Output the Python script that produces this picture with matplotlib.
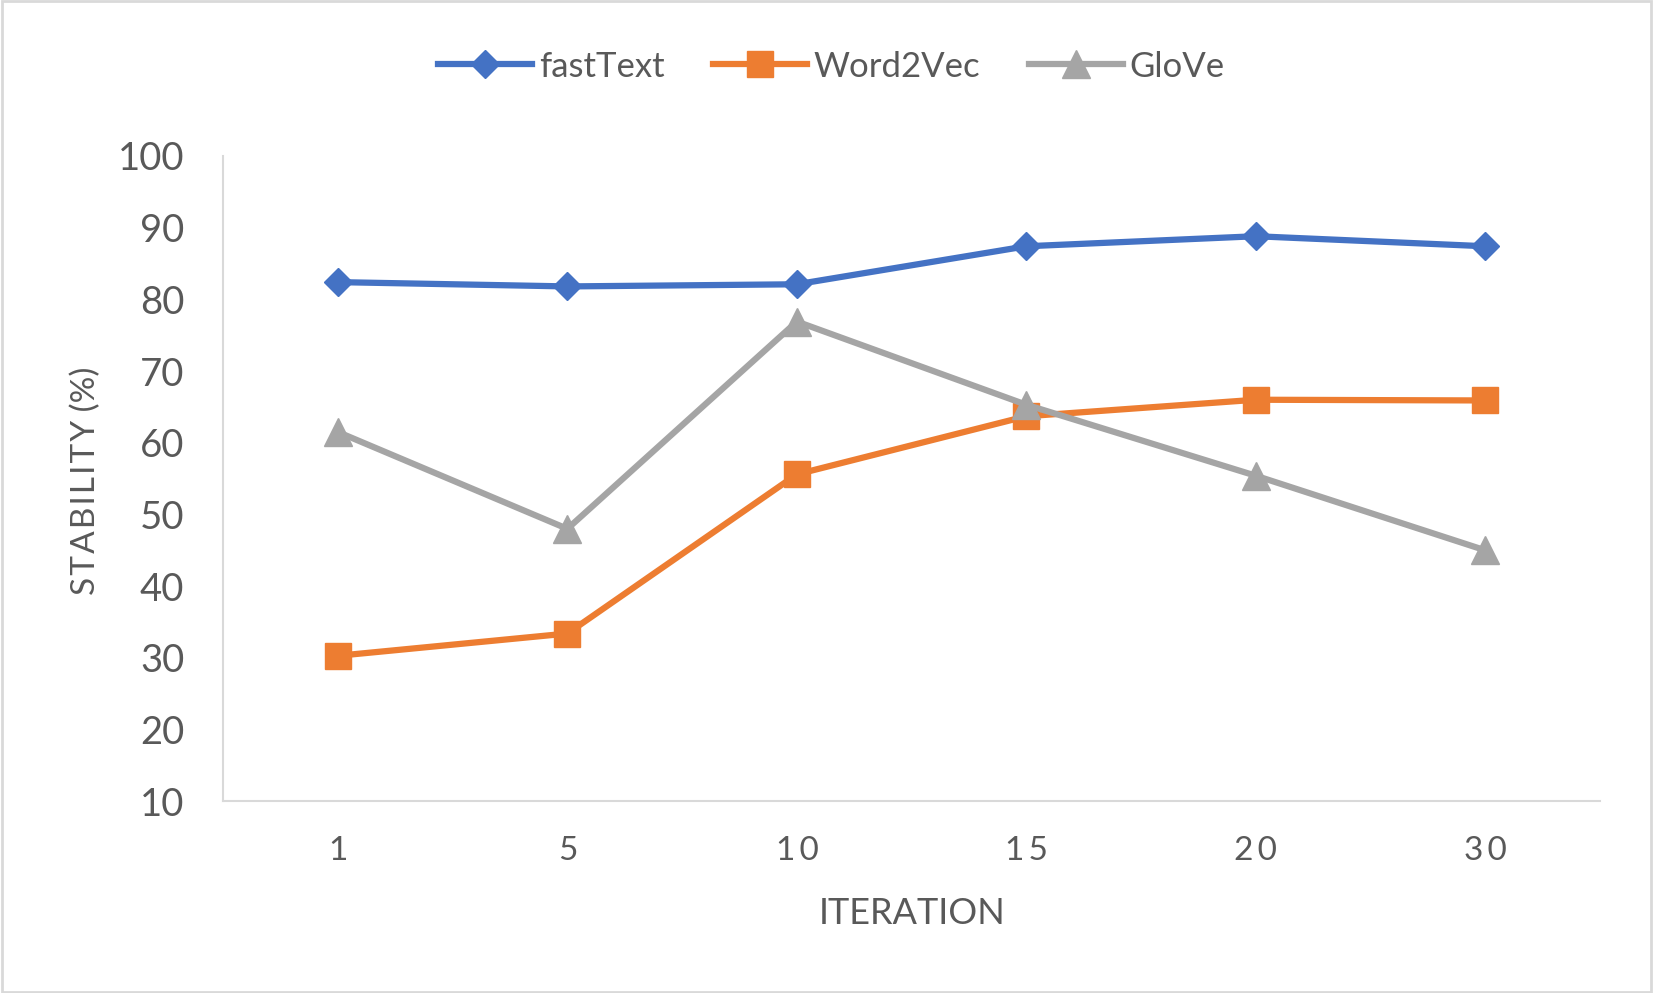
import matplotlib
matplotlib.use('Agg')
import matplotlib.pyplot as plt
from matplotlib.patches import Rectangle

iterations = ['1', '5', '10', '15', '20', '30']
fasttext = [82.4, 81.8, 82.1, 87.4, 88.8, 87.4]
word2vec = [30.3, 33.4, 55.6, 63.7, 66.0, 65.9]
glove = [61.5, 48.0, 76.9, 65.3, 55.4, 45.0]

plt.rcParams['font.family'] = ['Lato', 'DejaVu Sans']
text_gray = '#595959'
axis_gray = '#d9d9d9'

fig = plt.figure(figsize=(16.53, 9.93), dpi=100)
ax = fig.add_axes([0.135, 0.193, 0.833, 0.650])

x = list(range(len(iterations)))
ax.plot(x, fasttext, color='#4472C4', lw=4.5, marker='D', ms=14.5, label='fastText')
ax.plot(x, word2vec, color='#ED7D31', lw=4.5, marker='s', ms=19, label='Word2Vec')
ax.plot(x, glove, color='#A5A5A5', lw=4.5, marker='^', ms=20, label='GloVe')

ax.set_xlim(-0.5, len(iterations) - 0.5)
ax.set_ylim(10, 100)
ax.set_yticks(range(10, 101, 10))
ax.set_xticks(x)
# spaced-out digits as in the original
ax.set_xticklabels(['\u2009'.join(s) for s in iterations])

for side in ['top', 'right']:
    ax.spines[side].set_visible(False)
for side in ['left', 'bottom']:
    ax.spines[side].set_color(axis_gray)
    ax.spines[side].set_linewidth(1.5)

ax.tick_params(axis='both', length=0, colors=text_gray)
ax.tick_params(axis='y', labelsize=27.5, pad=28)
ax.tick_params(axis='x', labelsize=24, pad=25)

ax.set_xlabel('ITERATION', fontsize=26, color=text_gray, labelpad=22)
fig.text(0.052, 0.516, 'S\u200aT\u200aA\u200aB\u200aI\u200aL\u200aI\u200aT\u200aY (%)', rotation=90,
         fontsize=24, color=text_gray, ha='center', va='center')

leg = fig.legend(loc='center', bbox_to_anchor=(0.503, 0.933), ncol=3, frameon=False,
                 fontsize=25, handlelength=2.7, handletextpad=0.2, columnspacing=1.4)
for t in leg.get_texts():
    t.set_color(text_gray)

fig.patches.append(Rectangle((0.001, 0.001), 0.998, 0.998, transform=fig.transFigure,
                             fill=False, edgecolor=axis_gray, lw=2))

fig.savefig('out.png', dpi=100, facecolor='white')
